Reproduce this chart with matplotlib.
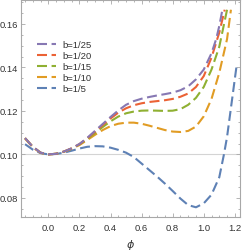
import matplotlib
matplotlib.use("Agg")
import matplotlib.pyplot as plt
from matplotlib.ticker import MultipleLocator, FormatStrFormatter

plt.rcParams['font.family'] = ['Liberation Sans', 'DejaVu Sans']

labels = ["b=1/25", "b=1/20", "b=1/15", "b=1/10", "b=1/5"]
colors = ["#8778B3", "#EB6235", "#8FB032", "#E19C24", "#5E81B5"]

x_b25 = [-0.15, -0.1, -0.05, 0.0, 0.05, 0.1, 0.15, 0.2, 0.25, 0.3, 0.35, 0.4, 0.45, 0.5, 0.55, 0.6, 0.65,
         0.7, 0.75, 0.8, 0.85, 0.9, 0.95, 1.0, 1.05, 1.08, 1.1, 1.12]
y_b25 = [0.1075, 0.1035, 0.1008, 0.1000, 0.1003, 0.1013, 0.1028, 0.1048, 0.1076, 0.1108, 0.1140, 0.1172,
         0.1202, 0.1228, 0.1245, 0.1256, 0.1264, 0.1271, 0.1277, 0.1284, 0.1295, 0.1313, 0.1345, 0.1390,
         0.1465, 0.1530, 0.1590, 0.1665]

x_b20 = [-0.15, -0.1, -0.05, 0.0, 0.05, 0.1, 0.15, 0.2, 0.25, 0.3, 0.35, 0.4, 0.45, 0.5, 0.55, 0.6, 0.65,
         0.7, 0.75, 0.8, 0.85, 0.9, 0.95, 1.0, 1.05, 1.1, 1.135]
y_b20 = [0.1075, 0.1035, 0.1008, 0.1000, 0.1003, 0.1013, 0.1028, 0.1047, 0.1074, 0.1104, 0.1135, 0.1165,
         0.1192, 0.1212, 0.1226, 0.1235, 0.1241, 0.1245, 0.1249, 0.1255, 0.1265, 0.1280, 0.1310, 0.1360,
         0.1445, 0.1560, 0.1665]

x_b15 = [-0.15, -0.1, -0.05, 0.0, 0.05, 0.1, 0.15, 0.2, 0.25, 0.3, 0.35, 0.4, 0.45, 0.5, 0.55, 0.6, 0.65,
         0.7, 0.75, 0.8, 0.85, 0.9, 0.95, 1.0, 1.05, 1.1, 1.15]
y_b15 = [0.1075, 0.1035, 0.1008, 0.1000, 0.1003, 0.1013, 0.1027, 0.1046, 0.1071, 0.1098, 0.1126, 0.1152,
         0.1174, 0.1189, 0.1197, 0.1201, 0.1202, 0.1201, 0.1200, 0.1201, 0.1208, 0.1228, 0.1260, 0.1310,
         0.1390, 0.1495, 0.1665]

x_b10 = [-0.15, -0.1, -0.05, 0.0, 0.05, 0.1, 0.15, 0.2, 0.25, 0.3, 0.35, 0.4, 0.45, 0.5, 0.55, 0.6, 0.65,
         0.7, 0.75, 0.8, 0.85, 0.9, 0.95, 1.0, 1.05, 1.1, 1.15, 1.175]
y_b10 = [0.1073, 0.1033, 0.1007, 0.1000, 0.1003, 0.1012, 0.1026, 0.1043, 0.1066, 0.1090, 0.1112, 0.1130,
         0.1141, 0.1146, 0.1146, 0.1141, 0.1132, 0.1122, 0.1112, 0.1105, 0.1103, 0.1108, 0.1128, 0.1175,
         0.1255, 0.1375, 0.1530, 0.1665]

x_b5 = [-0.15, -0.1, -0.05, 0.0, 0.05, 0.1, 0.15, 0.2, 0.25, 0.3, 0.35, 0.4, 0.45, 0.5, 0.55, 0.6, 0.65,
        0.7, 0.75, 0.8, 0.85, 0.9, 0.95, 1.0, 1.05, 1.1, 1.13, 1.15, 1.18, 1.21]
y_b5 = [0.1047, 0.1022, 0.1006, 0.1000, 0.1002, 0.1008, 0.1017, 0.1027, 0.1035, 0.1038, 0.1037, 0.1031,
        0.1021, 0.1008, 0.0988, 0.0958, 0.0928, 0.0898, 0.0866, 0.0832, 0.0797, 0.0767, 0.0757, 0.0775,
        0.0815, 0.0895, 0.1000, 0.1080, 0.1240, 0.1400]

series = [(x_b25, y_b25), (x_b20, y_b20), (x_b15, y_b15), (x_b10, y_b10), (x_b5, y_b5)]

fig = plt.figure(figsize=(2.42, 2.51), dpi=100)
ax = fig.add_axes([0.0855, 0.1303, 0.906, 0.866])

ax.axhline(0.10, color="#d4d4d4", lw=0.8, zorder=0)

for (xs, ys), lab, c in reversed(list(zip(series, labels, colors))):
    ax.plot(xs, ys, color=c, lw=1.5, dashes=(4.8, 2.2), label=lab,
            dash_capstyle='butt')

ax.set_xlim(-0.178, 1.233)
ax.set_ylim(0.0711, 0.1710)

ax.xaxis.set_major_locator(MultipleLocator(0.2))
ax.xaxis.set_minor_locator(MultipleLocator(0.05))
ax.yaxis.set_major_locator(MultipleLocator(0.02))
ax.yaxis.set_minor_locator(MultipleLocator(0.005))
ax.xaxis.set_major_formatter(FormatStrFormatter('%.1f'))
ax.yaxis.set_major_formatter(FormatStrFormatter('%.2f'))

frame_col = "#a8a8a8"
for s in ax.spines.values():
    s.set_color(frame_col)
    s.set_linewidth(0.8)
ax.tick_params(which='both', direction='in', top=True, right=True, color=frame_col,
               labelsize=6.8, labelcolor="#333333", width=0.6)
ax.tick_params(which='major', length=3.2)
ax.tick_params(which='minor', length=1.6)
ax.tick_params(axis='y', pad=2)
ax.tick_params(axis='x', pad=4)

ax.set_xlabel(r"$\phi$", fontsize=8, color="#333333", labelpad=4)

handles, labs = ax.get_legend_handles_labels()
order = [labs.index(l) for l in labels]
leg = ax.legend([handles[i] for i in order], [labs[i] for i in order],
                loc='upper left', bbox_to_anchor=(0.074, 0.815), frameon=False,
                fontsize=6.8, handlelength=2.0, handletextpad=0.75, labelspacing=0.22,
                borderpad=0, borderaxespad=0)
for t in leg.get_texts():
    t.set_color("#333333")

fig.savefig("out.png", dpi=100)
